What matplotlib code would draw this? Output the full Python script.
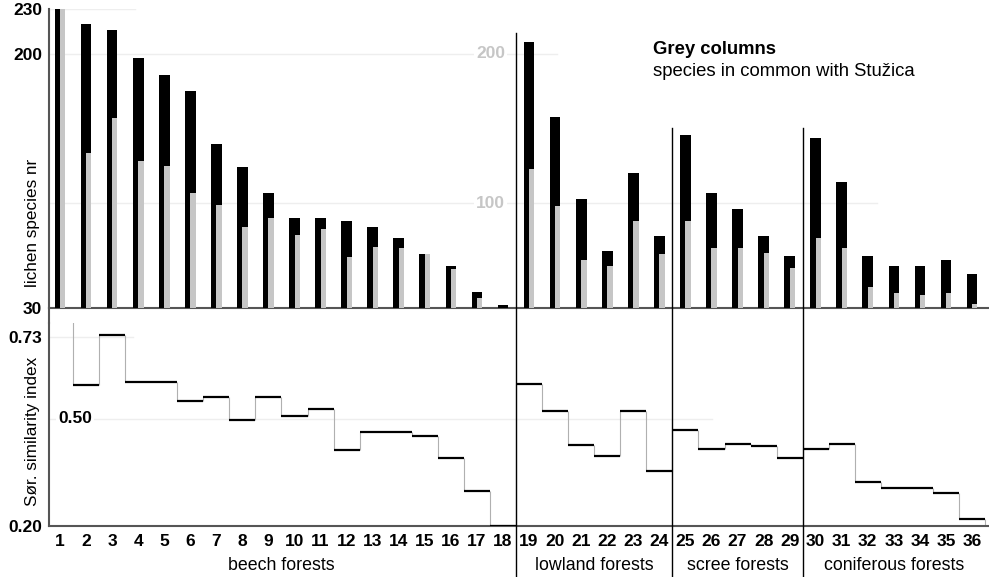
import matplotlib
matplotlib.use('Agg')
import matplotlib.pyplot as plt
import numpy as np
from matplotlib.transforms import blended_transform_factory
from matplotlib.lines import Line2D

plt.rcParams['font.family'] = ['Liberation Sans', 'DejaVu Sans']

# ---------------- data ----------------
sites = list(range(1, 37))
site_labels = [str(s) for s in sites]
total_species = [230, 220, 216, 197, 186, 175, 140, 124, 107, 90, 90, 88, 84, 77, 66, 58, 41, 32,
                 208, 158, 103, 68, 120, 78,
                 146, 107, 96, 78, 65,
                 144, 114, 65, 58, 58, 62, 53]
common_species = [230, 134, 157, 128, 125, 107, 99, 84, 90, 79, 83, 64, 71, 70, 66, 56, 37, 30,
                  123, 98, 62, 58, 88, 66,
                  88, 70, 70, 67, 57,
                  77, 70, 44, 40, 39, 40, 33]
sorensen = [1.0, 0.595, 0.733, 0.604, 0.604, 0.550, 0.560, 0.496, 0.560, 0.506, 0.527, 0.411,
            0.463, 0.463, 0.452, 0.391, 0.298, 0.20,
            0.597, 0.522, 0.426, 0.395, 0.522, 0.354,
            0.468, 0.414, 0.428, 0.422, 0.389,
            0.414, 0.428, 0.323, 0.305, 0.305, 0.291, 0.218]
groups = ['beech forests', 'lowland forests', 'scree forests', 'coniferous forests']
group_ranges = [(1, 18), (19, 24), (25, 29), (30, 36)]

W, H = 989, 577
fig = plt.figure(figsize=(W / 100, H / 100), dpi=100)

def fx(px):
    return px / W

def fy(py):
    return 1 - py / H

x_left, x_right = 49, 989
top_y0, top_y1 = 9, 308
bot_y0, bot_y1 = 323, 525.7

ax1 = fig.add_axes([fx(x_left), fy(top_y1), fx(x_right - x_left), (top_y1 - top_y0) / H])
ax2 = fig.add_axes([fx(x_left), fy(bot_y1), fx(x_right - x_left), (bot_y1 - bot_y0) / H])

xlim = (0.578, 36.65)
x = np.array(sites, dtype=float)

# ---------------- top panel ----------------
ax1.set_xlim(*xlim)
ax1.set_ylim(30, 230)
ax1.bar(x, total_species, width=0.41, color='black', zorder=3)
ax1.bar(x, common_species, width=0.205, align='edge', color='#c6c6c6', zorder=4)
ax1.axhline(230, xmin=0, xmax=0.0915, color='#eeeeee', lw=1, zorder=0)
ax1.axhline(200, xmin=0, xmax=0.54, color='#eeeeee', lw=1, zorder=0)
ax1.axhline(100, xmin=0, xmax=0.881, color='#eeeeee', lw=1, zorder=0)
ax1.set_yticks([30, 200, 230])
ax1.set_yticklabels(['30', '200', '230'], fontsize=12.5, fontweight='bold')
ax1.set_xticks([])
ax1.tick_params(axis='y', length=0, pad=5)
for s in ['top', 'right']:
    ax1.spines[s].set_visible(False)
for s in ['left', 'bottom']:
    ax1.spines[s].set_color('#555555')
    ax1.spines[s].set_linewidth(1.5)
tr1 = blended_transform_factory(ax1.transAxes, ax1.transData)
for v in [200, 100]:
    ax1.text(0.485, v, str(v), transform=tr1, ha='right', va='center', color='#c6c6c6',
             fontsize=12.5, fontweight='bold', zorder=1,
             bbox=dict(facecolor='white', edgecolor='none', pad=1.5))

# ---------------- bottom panel ----------------
ax2.set_xlim(*xlim)
ax2.set_ylim(0.20, 0.768)
ax2.axhline(0.73, xmin=0, xmax=0.089, color='#eeeeee', lw=1, zorder=0)
ax2.axhline(0.50, xmin=0, xmax=0.705, color='#eeeeee', lw=1, zorder=0)
sv = np.array(sorensen)
ax2.hlines(sv, x - 0.5, x + 0.5, color='black', lw=1.6, zorder=3)
ax2.vlines(x[:-1] + 0.5, np.minimum(sv[:-1], sv[1:]), np.maximum(sv[:-1], sv[1:]),
           color='#b0b0b0', lw=0.8, zorder=2)
ax2.vlines([x[-1] + 0.5], [0.20], [sv[-1]], color='#b0b0b0', lw=0.8, zorder=2)
ax2.set_yticks([0.20, 0.73])
ax2.set_yticklabels(['0.20', '0.73'], fontsize=12.5, fontweight='bold')
tr2 = blended_transform_factory(ax2.transAxes, ax2.transData)
ax2.text(0.0096, 0.50, '0.50', transform=tr2, ha='left', va='center', fontsize=12.5,
         fontweight='bold', zorder=1, bbox=dict(facecolor='white', edgecolor='none', pad=1.5))
ax2.set_xticks(sites)
ax2.set_xticklabels(site_labels, fontsize=12.5, fontweight='bold')
ax2.tick_params(axis='both', length=0)
ax2.tick_params(axis='x', pad=6)
ax2.tick_params(axis='y', pad=5)
for s in ['top', 'right']:
    ax2.spines[s].set_visible(False)
for s in ['left', 'bottom']:
    ax2.spines[s].set_color('#555555')
    ax2.spines[s].set_linewidth(1.5)

# left spine continuation between panels
fig.add_artist(Line2D([fx(x_left), fx(x_left)], [fy(top_y1), fy(bot_y0)],
                      color='#555555', lw=1.5))

# group separators
trf = blended_transform_factory(ax2.transData, fig.transFigure)
sep_tops = [33, 128, 128]
for (a, b), top in zip(group_ranges[1:], sep_tops):
    fig.add_artist(Line2D([a - 0.5, a - 0.5], [fy(top), 0], transform=trf,
                          color='black', lw=1))

# group labels
for name, (a, b) in zip(groups, group_ranges):
    fig.text((a + b) / 2, fy(566), name, transform=trf, ha='center', va='center', fontsize=12.8)

# axis titles
fig.text(fx(33), fy(223), 'lichen species nr', rotation=90, ha='center', va='center', fontsize=12.3)
fig.text(fx(33), fy(431), 'Sør. similarity index', rotation=90, ha='center', va='center', fontsize=12.3)

# legend note
fig.text(fx(653), fy(50), 'Grey columns', ha='left', va='center', fontsize=13.3, fontweight='bold')
fig.text(fx(653), fy(71), 'species in common with Stužica', ha='left', va='center', fontsize=13.3)

fig.savefig('out.png', dpi=100)
